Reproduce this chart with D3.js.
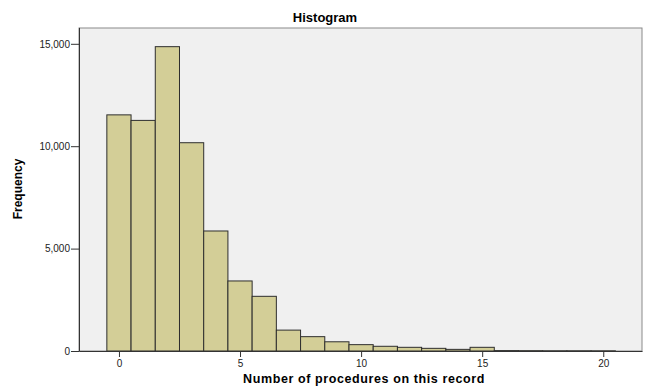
<!DOCTYPE html>
<html><head><meta charset="utf-8">
<script src="https://cdn.jsdelivr.net/npm/d3@7"></script>
<style>body{margin:0;background:#fff}svg{display:block}</style>
</head><body>
<svg id="c" width="647" height="387"></svg>
<script>
const bins = [0,1,2,3,4,5,6,7,8,9,10,11,12,13,14,15,16,17,18,19,20];
const freq = [11530,11260,14860,10170,5860,3420,2670,1020,700,450,310,230,180,130,80,180,20,15,10,10,8];
const yTicks = [0,5000,10000,15000];
const xTicks = [0,5,10,15,20];

const svg = d3.select("#c");
const L=79, R=642, T=28, B=351;
const x = d3.scaleLinear().domain([-1.65, 21.6]).range([L, R]);
const y = d3.scaleLinear().domain([0, 15800]).range([B, B - 15800*102.4/5000]);

svg.append("rect").attr("x",L).attr("y",T).attr("width",R-L).attr("height",B-T)
  .attr("fill","#f0f0f0").attr("stroke","#8a8a8a").attr("stroke-width",1);

svg.append("g").selectAll("rect").data(bins).join("rect")
  .attr("x",(d)=>x(d-0.5)).attr("width",(d)=>x(d+0.5)-x(d-0.5))
  .attr("y",(d,i)=>y(freq[i])).attr("height",(d,i)=>y(0)-y(freq[i]))
  .attr("fill","#d3ce97").attr("stroke","#2e2e2e").attr("stroke-width",1);

const fmt = d3.format(",");
const ya = svg.append("g").attr("transform",`translate(${L},0)`)
  .call(d3.axisLeft(y).tickValues(yTicks).tickFormat(fmt).tickSize(8).tickSizeOuter(0).tickPadding(1));
const xa = svg.append("g").attr("transform",`translate(0,${B})`)
  .call(d3.axisBottom(x).tickValues(xTicks).tickSize(6).tickSizeOuter(0).tickPadding(3));
[ya,xa].forEach(a=>{
  a.select(".domain").attr("stroke","#333");
  a.selectAll(".tick line").attr("stroke","#333");
  a.selectAll("text").attr("font-family","Liberation Sans, Arial, sans-serif").attr("font-size",10).attr("fill","#222");
});

svg.append("text").attr("x",325).attr("y",22).attr("text-anchor","middle")
  .attr("font-family","Liberation Sans, Arial, sans-serif").attr("font-weight","bold").attr("font-size",13)
  .text("Histogram");
svg.append("text").attr("x",364).attr("y",383).attr("text-anchor","middle")
  .attr("font-family","Liberation Sans, Arial, sans-serif").attr("font-weight","bold").attr("font-size",12.5)
  .attr("letter-spacing","0.6px")
  .text("Number of procedures on this record");
svg.append("text").attr("transform","translate(22,189) rotate(-90)").attr("text-anchor","middle")
  .attr("font-family","Liberation Sans, Arial, sans-serif").attr("font-weight","bold").attr("font-size",12)
  .text("Frequency");
</script>
</body></html>
